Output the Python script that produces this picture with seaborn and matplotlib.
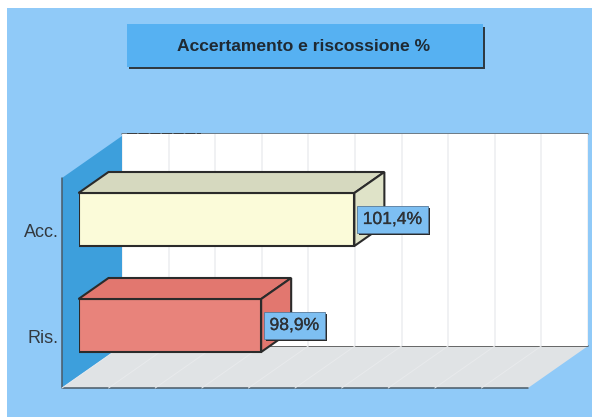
import matplotlib
matplotlib.use('Agg')
import matplotlib.pyplot as plt
import matplotlib.patheffects as pe
from matplotlib.patches import Polygon, Rectangle
from matplotlib.transforms import ScaledTranslation
import seaborn as sns
import pandas as pd
import numpy as np

categories = ['Acc.', 'Ris.']
values = [101.4, 98.9]
value_labels = ['101,4%', '98,9%']
title = 'Accertamento e riscossione %'

sns.set_style('white')
plt.rcParams['font.family'] = ['Liberation Sans', 'DejaVu Sans']

W, H = 592, 417
DARK = '#2b2b2b'
AXIS_MIN, AXIS_MAX = 94.0, 106.5
TICKS = np.linspace(AXIS_MIN, AXIS_MAX, 11)


def px_axes(fig, left, top, right, bottom, **kw):
    # axes placed by pixel box of the picture
    return fig.add_axes([left / W, 1 - bottom / H, (right - left) / W, (bottom - top) / H], **kw)


fig = plt.figure(figsize=(W / 100, H / 100), dpi=100, facecolor='white')

# background, in picture pixels
bg = fig.add_axes([0, 0, 1, 1], zorder=0)
bg.set_xlim(0, W)
bg.set_ylim(H, 0)
bg.axis('off')
bg.add_patch(Rectangle((7, 8), W - 7, H - 8, fc='#90caf8', ec='none'))
# title box with shadow
bg.add_patch(Rectangle((129, 27), 356, 42, fc='#2f3a42', ec='none'))
bg.add_patch(Rectangle((127, 24), 356, 43, fc='#56b1f2', ec='none'))
bg.text(303.5, 46, title, ha='center', va='center', fontsize=12.6, fontweight='bold', color='#1f2a33')
# side wall and floor
bg.add_patch(Polygon([(62, 178), (122, 136), (122, 346), (62, 388)], fc='#3d9fdc', ec='none'))
bg.add_patch(Polygon([(62, 388), (528, 388), (588, 346), (122, 346)], fc='#e0e3e5', ec='none'))
bg.plot([62, 62, 528], [178, 388, 388], color='#4a5a66', lw=1.1)
bg.plot([122, 588], [346, 346], color='#444444', lw=1.1, zorder=3)
bg.plot([122, 588], [134, 134], color='#666666', lw=1.1, zorder=3)
bg.plot([127, 201], [133.5, 133.5], color='#333333', lw=1.2, ls=(0, (6, 1)), zorder=3)

# back wall with the grid
wall = px_axes(fig, 122, 134, 588, 346, zorder=1)
wall.set_facecolor('white')
wall.set_xlim(AXIS_MIN, AXIS_MAX)
wall.set_ylim(0, 1)
wall.set_xticks(TICKS)
wall.set_yticks([])
wall.tick_params(labelbottom=False, length=0)
wall.grid(axis='x', color='#eceef0', lw=1.1)
sns.despine(ax=wall, left=True, bottom=True, top=True, right=True)
# floor lines, going forward from the grid
floor_dx = -60 / 466 * (AXIS_MAX - AXIS_MIN)
for t in TICKS[:-1]:
    wall.plot([t, t + floor_dx], [0, -42 / 212], color='#e8eaec', lw=0.7, clip_on=False)

# bars, front plane
df = pd.DataFrame({'cat': categories, 'val': values})
ax = px_axes(fig, 78.5, 166.5, 544.5, 378.5, zorder=2)
ax.patch.set_alpha(0)
sns.barplot(data=df, x='val', y='cat', hue='cat', palette=['#fbfbd9', '#e8837b'], width=0.5, saturation=1,
            edgecolor=DARK, linewidth=1.5, legend=False, dodge=False, ax=ax)
ax.set_xlim(AXIS_MIN, AXIS_MAX)
ax.set_ylim(1.5, -0.5)
ax.set_xlabel('')
ax.set_ylabel('')
ax.set_xticks([])
sns.despine(ax=ax, left=True, bottom=True)
ax.tick_params(axis='y', length=0, pad=14.4)
for lab in ax.get_yticklabels():
    lab.set_fontsize(13)
    lab.set_color('#33393f')
    lab.set_transform(lab.get_transform() + ScaledTranslation(0, -11 / 72 * 0.72, fig.dpi_scale_trans))

# depth of a bar in data units
dx = 30 / 466 * (AXIS_MAX - AXIS_MIN)
dy = -21 / 106
top_colors = ['#d6d9bf', '#e2776f']
side_colors = ['#dfe3c8', '#e2776f']
for i, bar in enumerate(ax.patches):
    val = values[i]
    bar.set_x(AXIS_MIN)
    bar.set_width(val - AXIS_MIN)
    y0, y1 = bar.get_y(), bar.get_y() + bar.get_height()
    ax.add_patch(Polygon([(AXIS_MIN, y0), (AXIS_MIN + dx, y0 + dy), (val + dx, y0 + dy), (val, y0)],
                         fc=top_colors[i], ec=DARK, lw=1.5, clip_on=False, zorder=3))
    ax.add_patch(Polygon([(val, y0), (val + dx, y0 + dy), (val + dx, y1 + dy), (val, y1)],
                         fc=side_colors[i], ec=DARK, lw=1.5, clip_on=False, zorder=3))
    txt = ax.annotate(value_labels[i], xy=(val, (y0 + y1) / 2), xytext=(6, 0), textcoords='offset points',
                      ha='left', va='center', fontsize=12.6, color='#2e3236', zorder=6,
                      bbox=dict(boxstyle='square,pad=0.33', fc='#7dbff2', ec='#55799a', lw=0.6),
                      path_effects=[pe.withStroke(linewidth=0.2, foreground='#2e3236')])
    txt.get_bbox_patch().set_path_effects([
        pe.SimplePatchShadow(offset=(1.5, -1.5), shadow_rgbFace='#2b2b2b', alpha=1), pe.Normal()])

fig.savefig('out.png', dpi=100, facecolor='white')
